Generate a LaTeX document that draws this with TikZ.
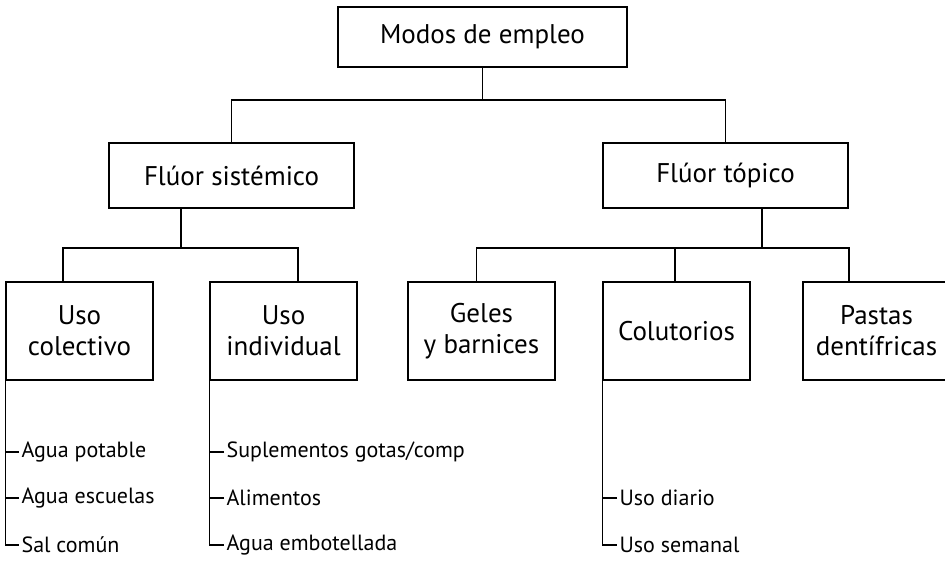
\documentclass[tikz,border=0pt]{standalone}
\usepackage{fontspec}
\setmainfont{PT Sans}
\usepackage{tikz}
\usetikzlibrary{positioning}

\begin{document}
\begin{tikzpicture}[x=1pt, y=-1pt, line width=1.2pt,
    box/.style={draw, rectangle, align=center, inner sep=0pt, font=\fontsize{27}{31}\selectfont},
    wide/.style={box, minimum width=245pt, minimum height=65pt},
    cell/.style={box, minimum width=147pt, minimum height=98pt},
    item/.style={anchor=west, inner sep=2pt, font=\fontsize{22}{26}\selectfont}]
    
    \clip (0,0) rectangle (945,574);
    
    \node[box, minimum width=289pt, minimum height=60pt] (modos) at (482.5,37) {Modos de empleo};
    
    \node[wide] (sist) at (231.5,175.5) {Flúor sistémico};
    \node[wide] (topi) at (725.5,175.5) {Flúor tópico};
    
    \node[cell] (colec) at (79.5,331) {Uso\\colectivo};
    \node[cell] (indiv) at (283.5,331) {Uso\\individual};
    \node[cell] (geles) at (481.5,331) {Geles\\y barnices};
    \node[cell] (colut) at (676.5,331) {Colutorios};
    \node[cell] (pastas) at (876.5,331) {Pastas\\dentífricas};
    
    \node[item] (agua1) at (19,452) {Agua potable};
    \node[item] (agua2) at (19,498) {Agua escuelas};
    \node[item] (sal) at (19,545) {Sal común};
    
    \node[item] (supl) at (224,452) {Suplementos gotas/comp};
    \node[item] (alim) at (224,498) {Alimentos};
    \node[item] (embo) at (224,545) {Agua embotellada};
    
    \node[item] (diario) at (617,498) {Uso diario};
    \node[item] (seman) at (617,545) {Uso semanal};
    
    \coordinate (bus0) at (482.5,100);
    \coordinate (bus1) at (181,248);
    \coordinate (bus2) at (762,248);
    
    \draw (modos.south) -- (bus0);
    \draw (sist.north) |- (bus0);
    \draw (topi.north) |- (bus0);
    
    \draw (sist.south -| bus1) -- (bus1);
    \draw ([xshift=-16.5pt]colec.north) |- (bus1);
    \draw ([xshift=14.5pt]indiv.north) |- (bus1);
    
    \draw (topi.south -| bus2) -- (bus2);
    \draw ([xshift=-5pt]geles.north) |- (bus2);
    \draw ([xshift=-1.5pt]colut.north) |- (bus2);
    \draw ([xshift=-27.5pt]pastas.north) |- (bus2);
    
    \draw (colec.south west) |- (sal.west);
    \draw (agua1.west) -- (agua1.west -| colec.west);
    \draw (agua2.west) -- (agua2.west -| colec.west);
    
    \draw (indiv.south west) |- (embo.west);
    \draw (supl.west) -- (supl.west -| indiv.west);
    \draw (alim.west) -- (alim.west -| indiv.west);
    
    \draw (colut.south west) |- (seman.west);
    \draw (diario.west) -- (diario.west -| colut.west);
\end{tikzpicture}
\end{document}
